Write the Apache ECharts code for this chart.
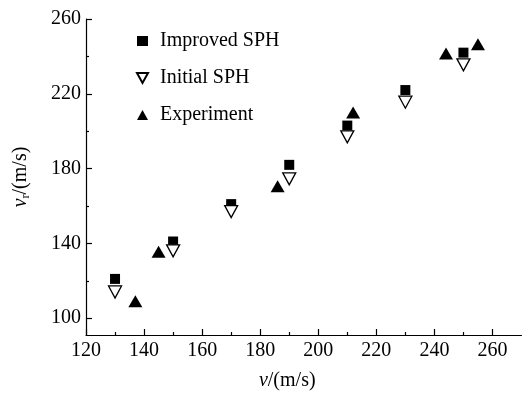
<!DOCTYPE html>
<html>
<head>
<meta charset="utf-8">
<script src="https://cdn.jsdelivr.net/npm/echarts@6/dist/echarts.min.js"></script>
<style>html,body{margin:0;padding:0;background:#fff;}#c{width:524px;height:396px;}</style>
</head>
<body>
<div id="c"></div>
<script>
// Data
var improvedX = [130, 150, 170, 190, 210, 230, 250];
var improvedY = [121, 141, 161, 182, 203, 222, 242];
var initialX = [130, 150, 170, 190, 210, 230, 250];
var initialY = [114, 136, 157, 174.5, 197, 215.5, 235.5];
var experimentX = [137, 145, 186, 212, 244, 255];
var experimentY = [109, 135.5, 170.5, 210, 241.5, 246.5];
var xMinorTicks = [130, 150, 170, 190, 210, 230, 250];
var yMajorTicks = [100, 140, 180, 220, 260];
var yMinorTicks = [120, 160, 200, 240];
var seriesNames = ['Improved SPH', 'Initial SPH', 'Experiment'];

function pairs(xs, ys) { return xs.map(function (x, i) { return [x, ys[i]]; }); }

var FONT = 'Liberation Serif';
var downTri = 'path://M0,0 L20,0 L10,18 Z';
var upTri = 'path://M10,0 L20,18 L0,18 Z';

var chart = echarts.init(document.getElementById('c'), null, { renderer: 'canvas' });
var axisCommonX = { type: 'value', min: 120, max: 270, gridIndex: 0, splitLine: { show: false } };
var axisCommonY = { type: 'value', min: 91, max: 260, gridIndex: 0, splitLine: { show: false } };

chart.setOption({
  animation: false,
  backgroundColor: '#fff',
  textStyle: { fontFamily: FONT },
  grid: { left: 86, right: 2.5, top: 19, bottom: 57, containLabel: false },
  legend: {
    orient: 'vertical',
    left: 131,
    top: 26,
    itemWidth: 11,
    itemHeight: 10,
    itemGap: 17,
    textStyle: { fontFamily: FONT, fontSize: 20, color: '#000', padding: [0, 0, 0, 7] },
    data: [
      { name: seriesNames[0], icon: 'rect' },
      { name: seriesNames[1], icon: downTri },
      { name: seriesNames[2], icon: upTri }
    ]
  },
  xAxis: [
    Object.assign({}, axisCommonX, {
      interval: 20,
      position: 'bottom',
      axisLine: { show: true, lineStyle: { color: '#000', width: 1.2 } },
      axisTick: { show: true, inside: true, length: 6, lineStyle: { color: '#000', width: 1.2 } },
      axisLabel: { show: true, showMaxLabel: false, margin: 6, fontFamily: FONT, fontSize: 20, color: '#000' },
      name: '{i|v}/(m/s)',
      nameLocation: 'middle',
      nameGap: 36,
      nameTextStyle: {
        fontFamily: FONT, fontSize: 20, color: '#000', padding: [0, 33, 0, 0],
        rich: { i: { fontFamily: FONT, fontStyle: 'italic', fontSize: 20, color: '#000' } }
      }
    }),
    Object.assign({}, axisCommonX, {
      position: 'bottom',
      axisLine: { show: false },
      axisTick: { show: true, inside: true, length: 3, customValues: xMinorTicks, lineStyle: { color: '#000', width: 1.2 } },
      axisLabel: { show: false }
    })
  ],
  yAxis: [
    Object.assign({}, axisCommonY, {
      position: 'left',
      axisLine: { show: true, lineStyle: { color: '#000', width: 1.2 } },
      axisTick: { show: true, inside: true, length: 6, customValues: yMajorTicks, lineStyle: { color: '#000', width: 1.2 } },
      axisLabel: { show: true, customValues: yMajorTicks, margin: 5, fontFamily: FONT, fontSize: 20, color: '#000' },
      name: '{i|v}{s|r}/(m/s)',
      nameLocation: 'middle',
      nameGap: 54,
      nameRotate: 90,
      nameTextStyle: {
        fontFamily: FONT, fontSize: 20, color: '#000',
        rich: {
          i: { fontFamily: FONT, fontStyle: 'italic', fontSize: 20, color: '#000' },
          s: { fontFamily: FONT, fontSize: 12, color: '#000', padding: [10, 0, 0, 0] }
        }
      }
    }),
    Object.assign({}, axisCommonY, {
      position: 'left',
      axisLine: { show: false },
      axisTick: { show: true, inside: true, length: 3, customValues: yMinorTicks, lineStyle: { color: '#000', width: 1.2 } },
      axisLabel: { show: false }
    })
  ],
  series: [
    {
      name: seriesNames[0], type: 'scatter', xAxisIndex: 0, yAxisIndex: 0,
      symbol: 'rect', symbolSize: 10,
      itemStyle: { color: '#000', opacity: 1 },
      data: pairs(improvedX, improvedY)
    },
    {
      name: seriesNames[1], type: 'scatter', xAxisIndex: 0, yAxisIndex: 0,
      symbol: downTri, symbolSize: [13, 12],
      itemStyle: { color: '#fff', borderColor: '#000', borderWidth: 1.3, opacity: 1 },
      data: pairs(initialX, initialY)
    },
    {
      name: seriesNames[2], type: 'scatter', xAxisIndex: 0, yAxisIndex: 0,
      symbol: upTri, symbolSize: [14, 12],
      itemStyle: { color: '#000', opacity: 1 },
      data: pairs(experimentX, experimentY)
    }
  ]
});
</script>
</body>
</html>
